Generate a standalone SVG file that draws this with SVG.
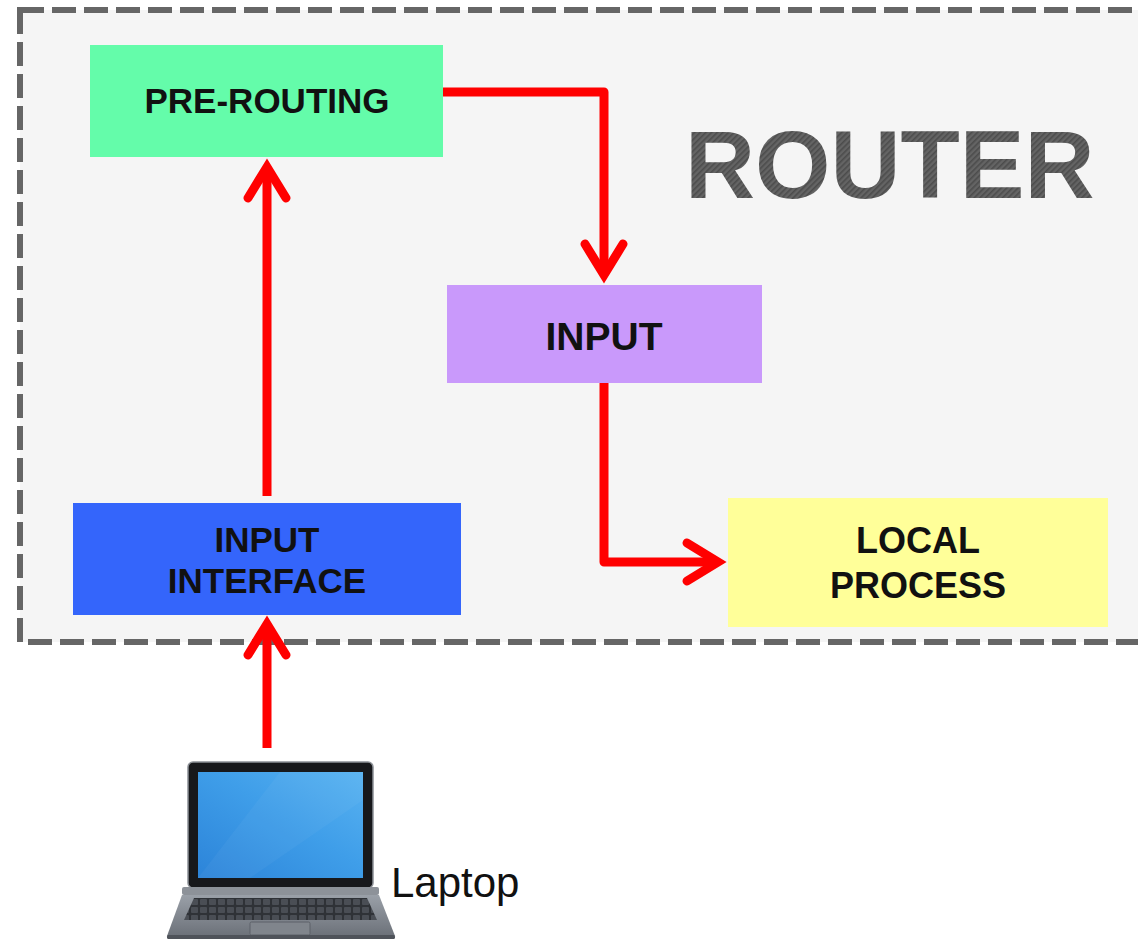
<svg xmlns="http://www.w3.org/2000/svg" width="1138" height="941" viewBox="0 0 1138 941">
  <style>
    .box-label { font-family: "Liberation Sans", Arial, sans-serif; font-weight: bold; fill: #111111; text-anchor: middle; }
    .flow { fill: none; stroke: #ff0000; stroke-width: 9; stroke-linejoin: round; stroke-linecap: butt; }
  </style>
  <defs>
    <!-- open chevron arrowhead, reference point at the chevron vertex -->
    <marker id="chevron" markerUnits="userSpaceOnUse" viewBox="-40 -30 50 60" refX="0" refY="0" markerWidth="50" markerHeight="60" orient="auto" overflow="visible">
      <path d="M-31,-19 L0,0 L-31,19" fill="none" stroke="#ff0000" stroke-width="9" stroke-linecap="round" stroke-linejoin="miter"/>
    </marker>
    <!-- fine diagonal hatching used on the big title -->
    <pattern id="hatch" width="4" height="4" patternUnits="userSpaceOnUse" patternTransform="rotate(45)">
      <rect width="4" height="4" fill="#646464"/>
      <rect width="1.6" height="4" fill="#4c4c4c"/>
    </pattern>
    <linearGradient id="screen" x1="0" y1="1" x2="1" y2="0">
      <stop offset="0" stop-color="#2c84d9"/>
      <stop offset="0.55" stop-color="#3f9ee9"/>
      <stop offset="1" stop-color="#58b2f1"/>
    </linearGradient>
    <linearGradient id="chassis" x1="0" y1="0" x2="0" y2="1">
      <stop offset="0" stop-color="#9aa0a8"/>
      <stop offset="1" stop-color="#6c7179"/>
    </linearGradient>
    <pattern id="keys" width="9" height="8" patternUnits="userSpaceOnUse" x="190" y="898">
      <rect width="9" height="8" fill="#2f3237"/>
      <rect x="1" y="1" width="7" height="6" rx="1" fill="#4a4e55"/>
    </pattern>
  </defs>

  <rect width="1138" height="941" fill="#ffffff"/>

  <!-- router boundary -->
  <g id="router-frame">
    <rect x="20" y="10" width="1140" height="632" fill="#f5f5f5" stroke="#666666" stroke-width="6" stroke-dasharray="24 8"/>
    <text x="685" y="198" font-family="'Liberation Sans', Arial, sans-serif" font-weight="bold" font-size="97" fill="url(#hatch)">ROUTER</text>
  </g>

  <!-- processing stages -->
  <g id="pre-routing">
    <rect x="90" y="45" width="353" height="112" fill="#64fcaa"/>
    <text class="box-label" x="267" y="113" font-size="35">PRE-ROUTING</text>
  </g>

  <g id="input">
    <rect x="447" y="285" width="315" height="98" fill="#c999fb"/>
    <text class="box-label" x="604" y="350" font-size="39">INPUT</text>
  </g>

  <g id="input-interface">
    <rect x="73" y="503" width="388" height="112" fill="#3465fb"/>
    <text class="box-label" x="267" y="552" font-size="35">INPUT</text>
    <text class="box-label" x="267" y="593" font-size="35">INTERFACE</text>
  </g>

  <g id="local-process">
    <rect x="728" y="498" width="380" height="129" fill="#ffff99"/>
    <text class="box-label" x="918" y="553" font-size="36">LOCAL</text>
    <text class="box-label" x="918" y="598" font-size="36">PROCESS</text>
  </g>

  <!-- client machine -->
  <g id="laptop">
    <!-- lid -->
    <rect x="188" y="762" width="185" height="126" rx="5" fill="#17181b" stroke="#8c9096" stroke-width="1.5"/>
    <rect x="198" y="772" width="165" height="106" fill="url(#screen)"/>
    <path d="M198,878 L280,772 L363,772 L363,800 L250,878 Z" fill="#ffffff" opacity="0.04"/>
    <!-- hinge -->
    <rect x="182" y="887" width="197" height="8" rx="2" fill="#8d9299"/>
    <!-- base -->
    <path d="M182,895 L379,895 L395,936 L167,936 Z" fill="url(#chassis)"/>
    <path d="M194,898 L367,898 L377,920 L184,920 Z" fill="url(#keys)"/>
    <rect x="250" y="922" width="60" height="13" rx="1.5" fill="#80858c" stroke="#5d6168" stroke-width="1"/>
    <rect x="167" y="935" width="228" height="4" rx="1.5" fill="#4f535a"/>
    <text x="391" y="897" font-family="'Liberation Sans', Arial, sans-serif" font-size="42" fill="#111111">Laptop</text>
  </g>

  <!-- packet path -->
  <g id="connectors">
    <path class="flow" d="M267,748 L267,624" marker-end="url(#chevron)"/>
    <path class="flow" d="M267,496 L267,167" marker-end="url(#chevron)"/>
    <path class="flow" d="M443,92 L604,92 L604,275" marker-end="url(#chevron)"/>
    <path class="flow" d="M604,383 L604,562 L718,562" marker-end="url(#chevron)"/>
  </g>
</svg>
